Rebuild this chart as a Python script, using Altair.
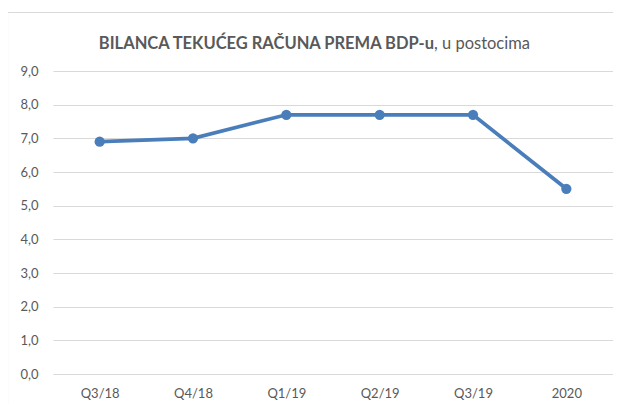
import altair as alt
import pandas as pd

categories = ["Q3/18", "Q4/18", "Q1/19", "Q2/19", "Q3/19", "2020"]
values = [6.9, 7.0, 7.7, 7.7, 7.7, 5.5]
title_bold = "BILANCA TEKUĆEG RAČUNA PREMA BDP-u"
title_rest = ", u postocima"

df = pd.DataFrame({"cat": categories, "val": values})

W, H = 560, 303
FONT = "Lato"
GRAY = "#595959"

frame = alt.Chart(pd.DataFrame({"a": [0]})).mark_rect(
    fillOpacity=0, stroke="#d9d9d9", strokeWidth=1.2
).encode(
    x=alt.value(-45.5), x2=alt.value(620), y=alt.value(-58.5), y2=alt.value(400)
)

base = alt.Chart(df).encode(
    x=alt.X("cat:N", sort=categories,
            scale=alt.Scale(type="point", padding=0.5),
            axis=alt.Axis(title=None, labelAngle=0, domain=False, ticks=False,
                          labelPadding=13, labelFont=FONT, labelFontSize=13,
                          labelColor=GRAY, grid=False)),
    y=alt.Y("val:Q", scale=alt.Scale(domain=[0, 9], nice=False),
            axis=alt.Axis(title=None, values=list(range(10)), domain=False, ticks=False,
                          labelPadding=15, labelFont=FONT, labelFontSize=13,
                          labelColor=GRAY, gridColor="#d9d9d9", gridWidth=1,
                          labelExpr="replace(format(datum.value, '.1f'), '.', ',')")),
)

line = base.mark_line(color="#4a7ebb", strokeWidth=3.75)
pts = base.mark_point(filled=True, color="#4a7ebb", size=105, opacity=1)

t1 = alt.Chart(pd.DataFrame({"t": [title_bold]})).mark_text(
    font=FONT, fontSize=16.5, fontWeight="bold", color=GRAY, align="right", baseline="alphabetic"
).encode(text="t:N", x=alt.value(381), y=alt.value(-22))

t2 = alt.Chart(pd.DataFrame({"t": [title_rest]})).mark_text(
    font=FONT, fontSize=16.5, fontWeight="normal", color=GRAY, align="left", baseline="alphabetic"
).encode(text="t:N", x=alt.value(381), y=alt.value(-22))

chart = alt.layer(frame, line, pts, t1, t2).properties(
    width=W, height=H,
    autosize=alt.AutoSizeParams(type="none"),
    padding={"left": 45, "top": 63, "right": 0, "bottom": 30},
).configure_view(stroke=None)

chart.save("out.html", embed_options={"renderer": "svg", "actions": False})
